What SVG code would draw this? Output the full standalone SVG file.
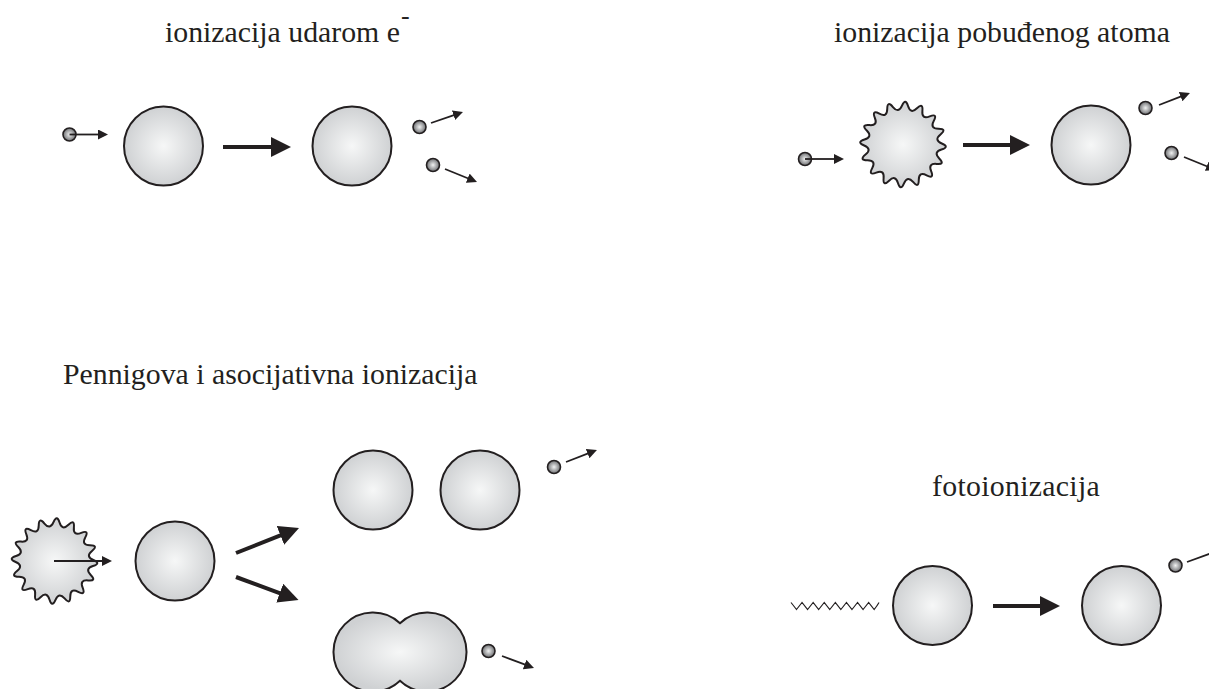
<svg xmlns="http://www.w3.org/2000/svg" width="1209" height="689" viewBox="0 0 1209 689">
<style>
text{font-family:"Liberation Serif","Times New Roman",serif;font-size:29.800px;fill:#231f20}
.a{fill:url(#g);stroke:#231f20;stroke-width:2}
.e{fill:url(#h);stroke:#231f20;stroke-width:1.6}
.big{stroke:#231f20;stroke-width:4;fill:none}
.thin{stroke:#231f20;stroke-width:1.800;fill:none}
.wave{stroke:#231f20;stroke-width:1.200;fill:none}
</style>
<defs>
<radialGradient id="g"><stop offset="0" stop-color="#f6f7f7"/><stop offset="1" stop-color="#cfd1d3"/></radialGradient>
<radialGradient id="h"><stop offset="0" stop-color="#f1f2f2"/><stop offset="1" stop-color="#6d6e71"/></radialGradient>
<marker id="mb" markerUnits="userSpaceOnUse" markerWidth="22" markerHeight="22" refX="2" refY="10" orient="auto"><path d="M0 0L20 10L0 20Z" fill="#231f20"/></marker>
<marker id="ms" markerUnits="userSpaceOnUse" markerWidth="12" markerHeight="11" refX="2" refY="5" orient="auto"><path d="M0 0L10 5L0 10Z" fill="#231f20"/></marker>
<circle id="atom" class="a" r="39.500"/>
<circle id="el" class="e" r="6.500"/>
<path id="star" class="a" d="M38.7 -3.03Q47 0 38.7 3.03Q30.4 6.05 36.91 12.02Q43.42 17.99 34.6 17.6Q25.78 17.22 29.5 25.23Q33.23 33.23 25.23 29.5Q17.22 25.78 17.6 34.6Q17.99 43.42 12.02 36.91Q6.05 30.4 3.03 38.7Q0 47 -3.03 38.7Q-6.05 30.4 -12.02 36.91Q-17.99 43.42 -17.6 34.6Q-17.22 25.78 -25.23 29.5Q-33.23 33.23 -29.5 25.23Q-25.78 17.22 -34.6 17.6Q-43.42 17.99 -36.91 12.02Q-30.4 6.05 -38.7 3.03Q-47 0 -38.7 -3.03Q-30.4 -6.05 -36.91 -12.02Q-43.42 -17.99 -34.6 -17.6Q-25.78 -17.22 -29.5 -25.23Q-33.23 -33.23 -25.23 -29.5Q-17.22 -25.78 -17.6 -34.6Q-17.99 -43.42 -12.02 -36.91Q-6.05 -30.4 -3.03 -38.7Q0 -47 3.03 -38.7Q6.05 -30.4 12.02 -36.91Q17.99 -43.42 17.6 -34.6Q17.22 -25.78 25.23 -29.5Q33.23 -33.23 29.5 -25.23Q25.78 -17.22 34.6 -17.6Q43.42 -17.99 36.91 -12.02Q30.4 -6.05 38.7 -3.03Z"/>
</defs>
<rect width="1209" height="689" fill="#fff"/>
<g id="labels">
<text x="165" y="42">ionizacija udarom e</text>
<text x="401" y="24" style="font-size:26px">-</text>
<text x="834" y="42">ionizacija pobuđenog atoma</text>
<text x="63" y="383.500">Pennigova i asocijativna ionizacija</text>
<text x="932" y="495.500" style="letter-spacing:.3px">fotoionizacija</text>
</g>
<g id="nodes">
<use id="n1" href="#el" x="69.500" y="134.500"/>
<use id="n2" href="#atom" x="163.500" y="146"/>
<use id="n3" href="#atom" x="352" y="146"/>
<use id="n4" href="#el" x="419.500" y="127"/>
<use id="n5" href="#el" x="433" y="165"/>
<use id="n6" href="#el" x="805" y="159"/>
<use id="n7" href="#star" transform="translate(903 144.500) rotate(3)"/>
<use id="n8" href="#atom" x="1091" y="145"/>
<use id="n9" href="#el" x="1145.500" y="108"/>
<use id="n10" href="#el" x="1171.500" y="153"/>
<use id="n11" href="#star" transform="translate(54.500 561) rotate(3)"/>
<use id="n12" href="#atom" x="175" y="561"/>
<use id="n13" href="#atom" x="373" y="490"/>
<use id="n14" href="#atom" x="480" y="490"/>
<use id="n15" href="#el" x="554" y="467"/>
<path id="n16" class="a" d="M400 623.200A39.500 39.500 0 1 0 400 680.800A39.500 39.500 0 1 0 400 623.200Z"/>
<use id="n17" href="#el" x="488.500" y="651"/>
<use id="n18" href="#atom" x="932.500" y="605.500"/>
<use id="n19" href="#atom" x="1121.500" y="605.500"/>
<use id="n20" href="#el" x="1175.500" y="565.500"/>
</g>
<g id="connectors">
<path class="thin" d="M69.500 134.500H100" marker-end="url(#ms)"/>
<path class="big" d="M223 147H273" marker-end="url(#mb)"/>
<path class="thin" d="M431 123L455.400 114.600" marker-end="url(#ms)"/>
<path class="thin" d="M445 169L469.600 179" marker-end="url(#ms)"/>
<path class="thin" d="M805 159H836" marker-end="url(#ms)"/>
<path class="big" d="M963 145H1012" marker-end="url(#mb)"/>
<path class="thin" d="M1159 105L1182.500 95.900" marker-end="url(#ms)"/>
<path class="thin" d="M1184 157L1208.600 167" marker-end="url(#ms)"/>
<path class="thin" d="M54 561H104" marker-end="url(#ms)"/>
<path class="big" d="M236 553L282.300 534.600" marker-end="url(#mb)"/>
<path class="big" d="M236 577L281.600 593.800" marker-end="url(#mb)"/>
<path class="thin" d="M566 462L589.500 452.900" marker-end="url(#ms)"/>
<path class="thin" d="M502 656L526.500 665.200" marker-end="url(#ms)"/>
<path class="wave" d="M791 602.500Q793.800 606 796.500 609.500Q799.300 606 802 602.500Q804.800 606 807.600 609.500Q810.400 606 813.100 602.500Q815.900 606 818.700 609.500Q821.500 606 824.200 602.500Q827 606 829.800 609.500Q832.600 606 835.300 602.500Q838.100 606 840.900 609.500Q843.700 606 846.400 602.500Q849.200 606 852 609.500Q854.800 606 857.500 602.500Q860.300 606 863.100 609.500Q865.900 606 868.600 602.500Q871.400 606 874.200 609.500Q877 606 879 602.500"/>
<path class="big" d="M993 606H1042" marker-end="url(#mb)"/>
<path class="thin" d="M1187 562L1212.500 552.700" marker-end="url(#ms)"/>
</g>
</svg>
